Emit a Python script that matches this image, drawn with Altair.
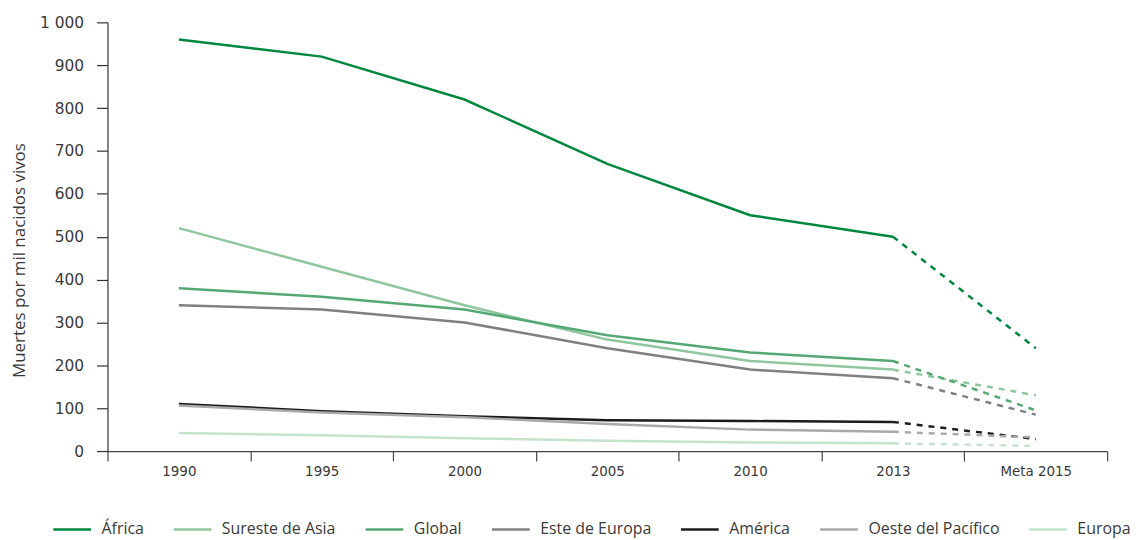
import altair as alt
import pandas as pd

years = ["1990", "1995", "2000", "2005", "2010", "2013", "Meta 2015"]
series = ["África", "Sureste de Asia", "Global", "Este de Europa",
          "América", "Oeste del Pacífico", "Europa"]
colors = ["#00873f", "#8fc69e", "#55a874", "#808084", "#1c1c1c", "#a9a9ad", "#c5e2cb"]

africa = [960, 920, 820, 670, 550, 500, 240]
sureste = [520, 430, 340, 260, 210, 190, 130]
glob = [380, 360, 330, 270, 230, 210, 95]
este_europa = [340, 330, 300, 240, 190, 170, 85]
america = [110, 93, 81, 72, 70, 68, 28]
oeste_pacifico = [106, 90, 79, 63, 50, 45, 32]
europa = [42, 37, 30, 24, 20, 18, 12]

values = [africa, sureste, glob, este_europa, america, oeste_pacifico, europa]

rows = []
for name, vals in zip(series, values):
    for i, (yr, v) in enumerate(zip(years, vals)):
        if i <= 5:
            rows.append({"year": yr, "value": v, "serie": name, "seg": "solid"})
        if i >= 5:
            rows.append({"year": yr, "value": v, "serie": name, "seg": "dash"})
df = pd.DataFrame(rows)

FONT = "Open Sans"
NUMFONT = "DejaVu Sans"
TXT = "#3a3a3a"

x_enc = alt.X("year:N", sort=years, bandPosition=0.5,
              scale=alt.Scale(type="band", domain=years, paddingInner=0, paddingOuter=0),
              axis=alt.Axis(title=None, tickBand="extent", tickSize=10, labelPadding=4,
                            labelFontSize=13.5, labelColor=TXT, labelFont=NUMFONT,
                            domainColor="#444", tickColor="#444", grid=False,
                            labelAngle=0))
y_enc = alt.Y("value:Q",
              scale=alt.Scale(domain=[0, 1000], nice=False),
              axis=alt.Axis(title="Muertes por mil nacidos vivos", values=list(range(0, 1001, 100)),
                            labelExpr="replace(format(datum.value, ','), ',', ' ')",
                            tickSize=11, labelPadding=13, labelFontSize=15.5,
                            labelColor=TXT, labelFont=NUMFONT, grid=False,
                            domainColor="#333", tickColor="#333",
                            titleFont=FONT, titleFontSize=17, titleFontWeight="normal",
                            titleColor=TXT, titleX=-88, titleY=239,
                            titleAngle=270, titleAlign="center", titleBaseline="middle"))
color_enc = alt.Color("serie:N", sort=series,
                      scale=alt.Scale(domain=series, range=colors),
                      legend=alt.Legend(title=None, orient="none", direction="horizontal",
                                        legendX=-56, legendY=489, symbolType="stroke",
                                        symbolSize=1444, symbolStrokeWidth=2.5,
                                        labelFontSize=16, labelFont=FONT, labelColor=TXT,
                                        labelOffset=9, columnPadding=24, columns=7))

base = alt.Chart(df)
solid = base.transform_filter(alt.datum.seg == "solid").mark_line(strokeWidth=2.5).encode(
    x=x_enc, y=y_enc, color=color_enc, detail="serie:N")
dash = base.transform_filter(alt.datum.seg == "dash").mark_line(
    strokeWidth=2.5, strokeDash=[6, 6]).encode(
    x=x_enc, y=y_enc, color=color_enc, detail="serie:N")

chart = alt.layer(solid, dash).properties(
    width=1005, height=431,
    autosize=alt.AutoSizeParams(type="none"),
    padding={"left": 100, "top": 13, "right": 30, "bottom": 86},
).configure_view(stroke=None).configure_axis(domainWidth=1.2, tickWidth=1.2)

chart.save("out.html", embed_options={"renderer": "svg", "actions": False})
